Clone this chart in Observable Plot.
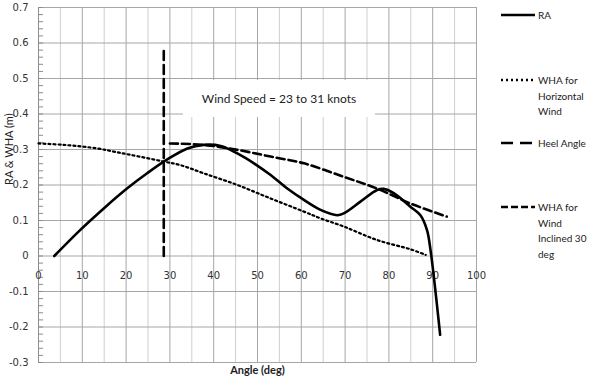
<!DOCTYPE html>
<html>
<head>
<meta charset="utf-8">
<script src="https://cdn.jsdelivr.net/npm/d3@7"></script>
<script src="https://cdn.jsdelivr.net/npm/@observablehq/plot@0.6"></script>
<style>
  html, body { margin: 0; padding: 0; background: #fff; }
  #wrap { position: relative; width: 590px; height: 392px; overflow: hidden; }
  #wrap svg { position: absolute; left: 0; top: 0; }
  .note { position: absolute; left: 183px; top: 80px; width: 192px; height: 37px; background: #fff;
          font: 12px Lato, sans-serif; color: #222; display: flex; align-items: center; justify-content: center; }
  .leg { position: absolute; left: 500px; font: 10px Lato, sans-serif; color: #222; line-height: 15.5px; }
  .leg svg { position: absolute; left: 0; }
  .leg span { position: absolute; left: 38px; white-space: nowrap; }
</style>
</head>
<body>
<div id="wrap"></div>
<script>
// ---- data ----
const raAngle = [3.6, 9.5, 14.9, 20.2, 24.8, 29.4, 34, 37.7, 41.6, 45.4, 49.2, 53, 56.8, 60.6, 64.4, 68.2, 69.7, 73.5, 77.3, 78.8, 81.1, 84.9, 87.2, 88.7, 89.5, 91.7];
const raValue = [0, 0.073, 0.134, 0.19, 0.233, 0.272, 0.303, 0.313, 0.31, 0.289, 0.261, 0.228, 0.19, 0.158, 0.13, 0.115, 0.12, 0.153, 0.186, 0.189, 0.177, 0.139, 0.115, 0.073, 0.017, -0.222];

const whaHAngle = [0, 5.8, 13.4, 17.2, 21, 28.6, 32.4, 37.7, 45.4, 53, 60.6, 64.4, 69.7, 77.3, 84.9, 88.4];
const whaHValue = [0.317, 0.313, 0.303, 0.294, 0.285, 0.266, 0.256, 0.233, 0.2, 0.162, 0.125, 0.106, 0.083, 0.045, 0.019, 0.003];

const heelAngle = [28.6, 28.6];
const heelValue = [0, 0.59];

const whaIAngle = [30, 37.7, 45.4, 53, 60.6, 69.7, 77.3, 84.9, 93.2];
const whaIValue = [0.317, 0.313, 0.299, 0.28, 0.261, 0.223, 0.19, 0.148, 0.111];

const xMajor = [0, 10, 20, 30, 40, 50, 60, 70, 80, 90, 100];
const xMinor = [5, 15, 25, 35, 45, 55, 65, 75, 85, 95];
const yMajor = [-0.3, -0.2, -0.1, 0, 0.1, 0.2, 0.3, 0.4, 0.5, 0.6, 0.7];
const yMinor = d3.range(-0.3, 0.7001, 0.02).map(v => +v.toFixed(2));

const seriesNames = ["RA", "WHA for Horizontal Wind", "Heel Angle", "WHA for Wind Inclined 30 deg"];
const noteText = "Wind Speed = 23 to 31 knots";

const zip = (a, b) => a.map((x, i) => ({x, y: b[i]}));
const ra = zip(raAngle, raValue);
const whaH = zip(whaHAngle, whaHValue);
const heel = zip(heelAngle, heelValue);
const whaI = zip(whaIAngle, whaIValue);

const fmtY = d => d === 0 ? "0" : d.toFixed(1);

const chart = Plot.plot({
  width: 590,
  height: 392,
  marginLeft: 38,
  marginRight: 114,
  marginTop: 7,
  marginBottom: 30,
  x: {domain: [0, 100], axis: null},
  y: {domain: [-0.3, 0.7], axis: null},
  style: {fontFamily: "DejaVu Sans, sans-serif", background: "#fff"},
  marks: [
    Plot.ruleX(xMinor, {stroke: "#cfcfcf", strokeWidth: 1}),
    Plot.ruleX(xMajor, {stroke: "#a6a6a6", strokeWidth: 1}),
    Plot.ruleY(yMajor, {stroke: "#a6a6a6", strokeWidth: 1}),
    Plot.ruleX([0], {stroke: "#8c8c8c", strokeWidth: 1}),
    Plot.ruleY(yMinor, {x1: 0, x2: 1.15, stroke: "#8c8c8c", strokeWidth: 1}),
    Plot.axisY({ticks: yMajor, tickSize: 0, tickPadding: 10, tickFormat: fmtY, fontSize: 10, fill: "#333", label: null}),
    Plot.text(xMajor, {x: d => d, y: 0, dy: 20, text: d => String(d), fontSize: 10, fill: "#333"}),
    Plot.line(whaH, {x: "x", y: "y", stroke: "#000", strokeWidth: 2.2, strokeDasharray: "2,3", curve: "catmull-rom"}),
    Plot.line(whaI, {x: "x", y: "y", stroke: "#000", strokeWidth: 2.6, strokeDasharray: "8,4", curve: "catmull-rom"}),
    Plot.line(heel, {x: "x", y: "y", stroke: "#000", strokeWidth: 2.6, strokeDasharray: "9,5"}),
    Plot.line(ra, {x: "x", y: "y", stroke: "#000", strokeWidth: 2.6, curve: "catmull-rom"}),
    Plot.text(["Angle (deg)"], {frameAnchor: "bottom", dy: 11, x: 50, text: d => d, fontFamily: "Lato, sans-serif", fontWeight: "bold", fontSize: 11, fill: "#222"}),
    Plot.text(["RA & WHA (m)"], {frameAnchor: "left", dx: -29, y: 0.2, rotate: -90, text: d => d, fontFamily: "Lato, sans-serif", fontSize: 11, fill: "#222"})
  ]
});

const wrap = document.getElementById("wrap");
wrap.appendChild(chart);

const note = document.createElement("div");
note.className = "note";
note.textContent = noteText;
wrap.appendChild(note);

// legend (to the right of the plot)
const legendSpec = [
  {name: seriesNames[0], lines: ["RA"], top: 15, dash: null},
  {name: seriesNames[1], lines: ["WHA for", "Horizontal", "Wind"], top: 80, dash: "2,3"},
  {name: seriesNames[2], lines: ["Heel Angle"], top: 143, dash: "12,7"},
  {name: seriesNames[3], lines: ["WHA for", "Wind", "Inclined 30", "deg"], top: 207, dash: "7,3"}
];
legendSpec.forEach(s => {
  const g = document.createElement("div");
  g.className = "leg";
  g.style.top = (s.top) + "px";
  g.innerHTML = `<svg width="36" height="6" style="top:-3px"><line x1="1" x2="35" y1="3" y2="3" stroke="#000" stroke-width="2.6" ${s.dash ? `stroke-dasharray="${s.dash}"` : ""}/></svg>` +
    s.lines.map((t, i) => `<span style="top:${i * 15.5 - 7}px">${t}</span>`).join("");
  wrap.appendChild(g);
});
</script>
</body>
</html>
